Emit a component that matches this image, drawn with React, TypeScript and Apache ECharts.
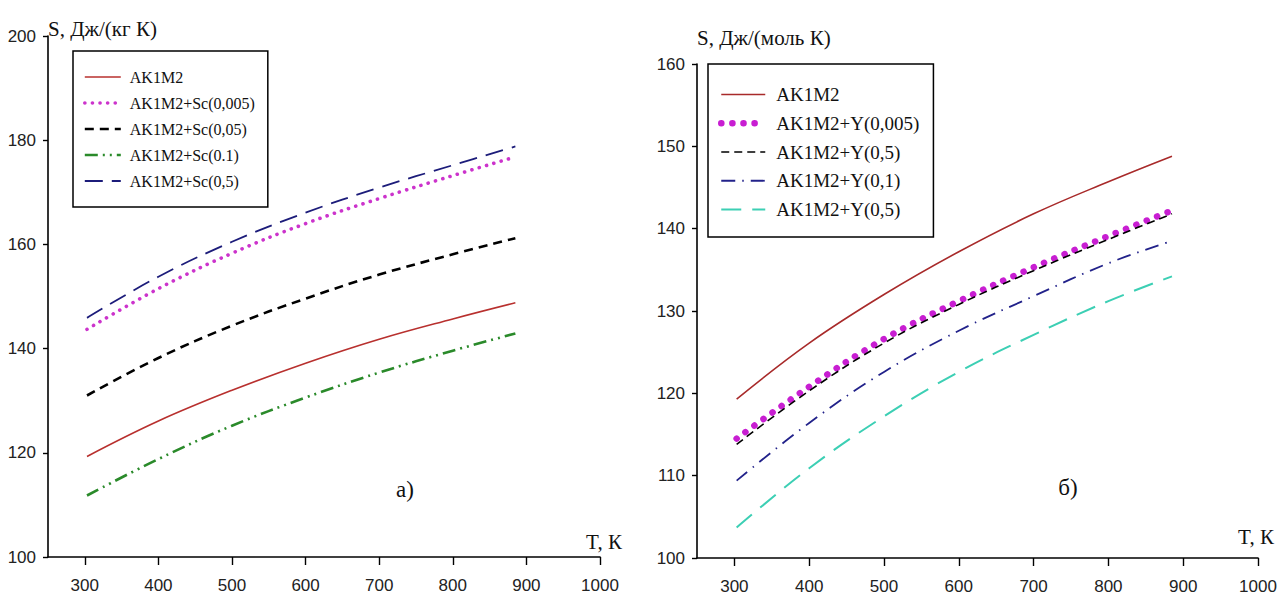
import React, { useEffect, useRef } from "react";
import * as echarts from "echarts";

// Temperature points (K)
const temps = [303, 400, 500, 600, 700, 800, 885];
const xTicks = [300, 400, 500, 600, 700, 800, 900, 1000];

// Panel a) S, J/(kg K)
const ak1m2 = [119.3, 126.1, 132.0, 137.2, 141.8, 145.7, 148.8];
const sc0005 = [143.7, 151.5, 158.3, 164.0, 168.8, 173.2, 176.8];
const sc005 = [131.0, 138.2, 144.4, 149.6, 154.2, 158.1, 161.2];
const sc01 = [111.8, 118.8, 125.2, 130.6, 135.4, 139.6, 142.9];
const sc05 = [145.9, 153.8, 160.5, 166.1, 170.9, 175.2, 178.8];

// Panel б) S, J/(mol K)
const ak1m2b = [119.3, 126.1, 132.0, 137.2, 141.8, 145.7, 148.8];
const y0005 = [114.5, 120.8, 126.6, 131.2, 135.3, 139.1, 142.2];
const y05a = [113.8, 120.3, 126.1, 130.8, 134.9, 138.7, 141.8];
const y01 = [109.4, 116.4, 122.6, 127.6, 131.8, 135.8, 138.5];
const y05b = [103.7, 110.9, 117.2, 122.6, 127.1, 131.2, 134.2];

const leftNames = ["AK1M2", "AK1M2+Sc(0,005)", "AK1M2+Sc(0,05)", "AK1M2+Sc(0.1)", "AK1M2+Sc(0,5)"];
const rightNames = ["AK1M2\u200B", "AK1M2+Y(0,005)", "AK1M2+Y(0,5)", "AK1M2+Y(0,1)", "AK1M2+Y(0,5)\u200B"];

const pts = (vals: number[]) => temps.map((t, i) => [t, vals[i]]);

const SERIF = "'Liberation Serif', 'Times New Roman', serif";
const SANS = "'Liberation Sans', Arial, sans-serif";

function xAxis(gridIndex: number) {
  return {
    type: "value",
    gridIndex,
    min: 250,
    max: 1000,
    axisLine: { lineStyle: { color: "#000", width: 1.6 } },
    axisTick: { length: 8, lineStyle: { color: "#000", width: 1.4 }, customValues: xTicks },
    axisLabel: {
      margin: 20,
      color: "#222",
      fontSize: 17,
      fontFamily: SANS,
      customValues: xTicks,
      formatter: (v: number) => String(v),
    },
    splitLine: { show: false },
  };
}

function yAxis(gridIndex: number, max: number, interval: number, name: string, gap: number) {
  return {
    type: "value",
    gridIndex,
    min: 100,
    max,
    interval,
    name,
    nameLocation: "end",
    nameGap: gap,
    nameTextStyle: { align: "left", verticalAlign: "middle", fontFamily: SERIF, fontSize: 21, color: "#111" },
    axisLine: { show: true, lineStyle: { color: "#000", width: 1.6 } },
    axisTick: { show: true, length: 5, lineStyle: { color: "#000", width: 1.4 } },
    axisLabel: { margin: 12, color: "#222", fontSize: 17, fontFamily: SANS, formatter: (v: number) => String(v) },
    splitLine: { show: false },
  };
}

type Sty = { color: string; width: number; type: any; cap?: string };

const leftStyles: Sty[] = [
  { color: "#b8302e", width: 1.6, type: "solid" },
  { color: "#cc33cc", width: 3.6, type: [0.1, 7.5], cap: "round" },
  { color: "#000000", width: 2.6, type: [9, 6] },
  { color: "#2a8a2a", width: 2.6, type: [13, 5, 2, 5, 2, 5] },
  { color: "#1c1c7a", width: 1.8, type: [18, 9] },
];
const rightStyles: Sty[] = [
  { color: "#a82a2a", width: 1.6, type: "solid" },
  { color: "#c81ed2", width: 6.5, type: [0.1, 11], cap: "round" },
  { color: "#000000", width: 1.6, type: [8, 5] },
  { color: "#22228a", width: 1.8, type: [14, 7, 1.5, 7] },
  { color: "#3ccfb4", width: 2, type: [20, 11] },
];

function line(name: string, vals: number[], idx: number, s: Sty) {
  return {
    type: "line",
    name,
    xAxisIndex: idx,
    yAxisIndex: idx,
    data: pts(vals),
    smooth: 0.4,
    symbol: "none",
    showSymbol: false,
    lineStyle: { color: s.color, width: s.width, type: s.type, cap: s.cap || "butt" },
    itemStyle: { color: s.color },
  };
}

const hiddenSymbol = { color: "rgba(0,0,0,0)", borderColor: "rgba(0,0,0,0)", borderWidth: 0, opacity: 0 };

const legendData = (names: string[], styles: Sty[]) =>
  names.map((name, i) => ({
    name,
    itemStyle: hiddenSymbol,
    lineStyle: {
      color: styles[i].color,
      width: styles[i].width,
      type: styles[i].type,
      cap: styles[i].cap || "butt",
      opacity: 1,
    },
  }));

export default function App() {
  const ref = useRef<HTMLDivElement>(null);
  useEffect(() => {
    if (!ref.current) return;
    const chart = echarts.init(ref.current, undefined, { renderer: "svg" });
    const option = {
      animation: false,
      backgroundColor: "#fff",
      grid: [
        { left: 48, top: 36, width: 552, height: 521 },
        { left: 697, top: 64, width: 561, height: 494 },
      ],
      xAxis: [xAxis(0), xAxis(1)],
      yAxis: [
        yAxis(0, 200, 20, "S, Дж/(кг К)", 7),
        yAxis(1, 160, 10, "S, Дж/(моль К)", 26),
      ],
      legend: [
        {
          data: legendData(leftNames, leftStyles),
          orient: "vertical",
          left: 73,
          top: 51,
          padding: [18, 13, 18, 10],
          itemWidth: 36,
          itemHeight: 14,
          itemGap: 10,
          borderColor: "#000",
          borderWidth: 1.5,
          itemStyle: hiddenSymbol,
          formatter: (n: string) => n.replace(/\u200B/g, ""),
          textStyle: { fontFamily: SERIF, fontSize: 16, lineHeight: 16, color: "#111", padding: [0, 0, 0, 4] },
        },
        {
          data: legendData(rightNames, rightStyles),
          orient: "vertical",
          left: 708,
          top: 64,
          padding: [21, 14, 18, 10],
          itemWidth: 44,
          itemHeight: 14,
          itemGap: 9.75,
          borderColor: "#000",
          borderWidth: 1.5,
          itemStyle: hiddenSymbol,
          formatter: (n: string) => n.replace(/\u200B/g, ""),
          textStyle: { fontFamily: SERIF, fontSize: 19, lineHeight: 19, color: "#111", padding: [0, 0, 0, 6] },
        },
      ],
      graphic: [
        { type: "text", x: 604, y: 542, style: { text: "T, К", font: `21px ${SERIF}`, fill: "#111", align: "center", verticalAlign: "middle" } },
        { type: "text", x: 1256, y: 537, style: { text: "T, К", font: `21px ${SERIF}`, fill: "#111", align: "center", verticalAlign: "middle" } },
        { type: "text", x: 405, y: 489, style: { text: "a)", font: `23px ${SERIF}`, fill: "#111", align: "center", verticalAlign: "middle" } },
        { type: "text", x: 1068, y: 487, style: { text: "б)", font: `23px ${SERIF}`, fill: "#111", align: "center", verticalAlign: "middle" } },
      ],
      series: [
        line(leftNames[0], ak1m2, 0, leftStyles[0]),
        line(leftNames[1], sc0005, 0, leftStyles[1]),
        line(leftNames[2], sc005, 0, leftStyles[2]),
        line(leftNames[3], sc01, 0, leftStyles[3]),
        line(leftNames[4], sc05, 0, leftStyles[4]),
        line(rightNames[0], ak1m2b, 1, rightStyles[0]),
        line(rightNames[1], y0005, 1, rightStyles[1]),
        line(rightNames[2], y05a, 1, rightStyles[2]),
        line(rightNames[3], y01, 1, rightStyles[3]),
        line(rightNames[4], y05b, 1, rightStyles[4]),
      ],
    };
    chart.setOption(option as any);
    return () => chart.dispose();
  }, []);
  return (
    <div
      ref={ref}
      style={{ position: "fixed", left: 0, top: 0, width: 1280, height: 597, background: "#fff" }}
    />
  );
}
